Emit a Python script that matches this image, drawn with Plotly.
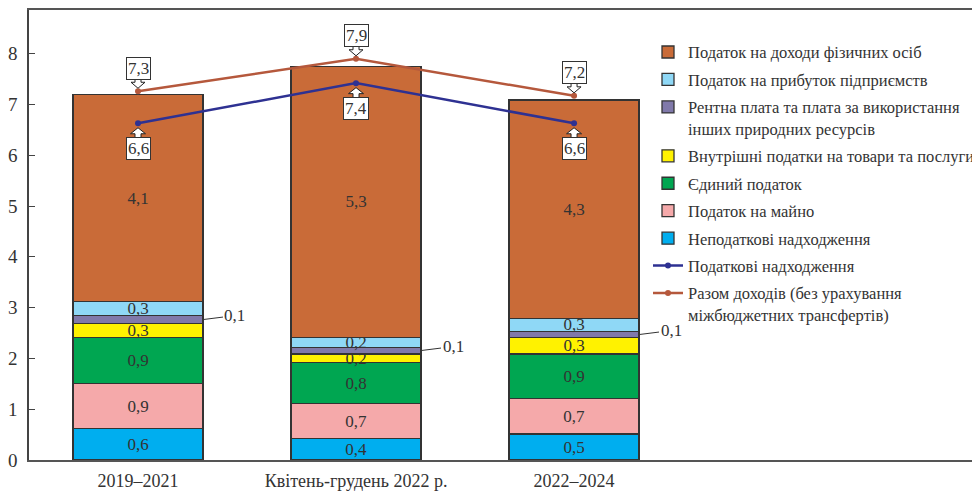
import plotly.graph_objects as go

categories = ["2019–2021", "Квітень-грудень 2022 р.", "2022–2024"]

nontax = [0.62, 0.42, 0.51]
nontax_lbl = ["0,6", "0,4", "0,5"]
prop_tax = [0.88, 0.69, 0.70]
prop_lbl = ["0,9", "0,7", "0,7"]
single_tax = [0.91, 0.81, 0.88]
single_lbl = ["0,9", "0,8", "0,9"]
internal_tax = [0.28, 0.17, 0.32]
internal_lbl = ["0,3", "0,2", "0,3"]
rent = [0.15, 0.13, 0.12]
rent_lbl = ["0,1", "0,1", "0,1"]
profit_tax = [0.28, 0.19, 0.26]
profit_lbl = ["0,3", "0,2", "0,3"]
pit = [4.07, 5.34, 4.30]
pit_lbl = ["4,1", "5,3", "4,3"]

tax_revenue = [6.63, 7.42, 6.63]
tax_revenue_lbl = ["6,6", "7,4", "6,6"]
total_revenue = [7.26, 7.90, 7.17]
total_revenue_lbl = ["7,3", "7,9", "7,2"]

SERIF = "Liberation Serif, DejaVu Serif, serif"
TXT = "#333333"

fig = go.Figure()

bars = [
    ("Неподаткові надходження", nontax, nontax_lbl, "#00aeef", 7),
    ("Податок на майно", prop_tax, prop_lbl, "#f5a9aa", 6),
    ("Єдиний податок", single_tax, single_lbl, "#00a651", 5),
    ("Внутрішні податки на товари та послуги", internal_tax, internal_lbl, "#fff200", 4),
    ("Рентна плата та плата за використання<br>інших природних ресурсів", rent, ["", "", ""], "#8079aa", 3),
    ("Податок на прибуток підприємств", profit_tax, profit_lbl, "#8fd8f6", 2),
    ("Податок на доходи фізичних осіб", pit, pit_lbl, "#c96b38", 1),
]
for name, vals, lbls, col, rank in bars:
    fig.add_trace(go.Bar(
        x=categories, y=vals, name=name, legendgroup=name, legendrank=rank,
        text=lbls, textposition="inside", insidetextanchor="middle",
        textangle=0, constraintext="none",
        textfont=dict(family=SERIF, size=17, color=TXT),
        marker=dict(color=col, line=dict(color="#333333", width=1.3)),
        width=0.596, hoverinfo="skip"))

fig.add_trace(go.Scatter(
    x=categories, y=tax_revenue, mode="lines+markers",
    name="Податкові надходження", legendgroup="tax", legendrank=8,
    line=dict(color="#2e3192", width=2.5), marker=dict(size=6, color="#2e3192")))
fig.add_trace(go.Scatter(
    x=categories, y=total_revenue, mode="lines+markers",
    name="Разом доходів (без урахування<br>міжбюджетних трансфертів)",
    legendgroup="total", legendrank=9,
    line=dict(color="#b5583c", width=2.5), marker=dict(size=6, color="#b5583c")))

DOWN_ARROW = "M0,3 L-7,9 L-3,9 L-3,13.5 L3,13.5 L3,9 L7,9 Z"
UP_ARROW = "M0,-4.5 L-7.5,-10.5 L-3,-10.5 L-3,-15.5 L3,-15.5 L3,-10.5 L7.5,-10.5 Z"

ann = []
shapes = []
for i in range(len(categories)):
    # total revenue label above
    ann.append(dict(x=i, y=total_revenue[i], xref="x", yref="y", text=total_revenue_lbl[i],
                    showarrow=False, yshift=23, bgcolor="white", bordercolor="#333",
                    borderwidth=1, borderpad=1, font=dict(family=SERIF, size=17, color=TXT)))
    shapes.append(dict(type="path", xref="x", yref="y", xsizemode="pixel", ysizemode="pixel",
                       xanchor=i, yanchor=total_revenue[i], path=DOWN_ARROW,
                       fillcolor="white", line=dict(color="#222", width=1), layer="above"))
    # tax revenue label below
    shapes.append(dict(type="path", xref="x", yref="y", xsizemode="pixel", ysizemode="pixel",
                       xanchor=i, yanchor=tax_revenue[i], path=UP_ARROW,
                       fillcolor="white", line=dict(color="#222", width=1), layer="above"))
    ann.append(dict(x=i, y=tax_revenue[i], xref="x", yref="y", text=tax_revenue_lbl[i],
                    showarrow=False, yshift=-25, bgcolor="white", bordercolor="#333",
                    borderwidth=1, borderpad=1, font=dict(family=SERIF, size=17, color=TXT)))
    # rent leader label
    base = nontax[i] + prop_tax[i] + single_tax[i] + internal_tax[i]
    ann.append(dict(x=i + 0.298, y=base + rent[i] / 2, xref="x", yref="y", text=rent_lbl[i],
                    showarrow=True, arrowhead=0, arrowwidth=1, arrowcolor="#333",
                    ax=32, ay=-4, standoff=0, font=dict(family=SERIF, size=17, color=TXT)))

fig.update_layout(
    width=972, height=483,
    margin=dict(l=21, r=0, t=2, b=31),
    paper_bgcolor="white", plot_bgcolor="white",
    barmode="stack",
    font=dict(family=SERIF, size=16, color=TXT),
    showlegend=True,
    legend=dict(x=0.651, y=0.945, xanchor="left", yanchor="top",
                traceorder="grouped", tracegroupgap=3, valign="top",
                font=dict(family=SERIF, size=16.5, color=TXT), bgcolor="rgba(0,0,0,0)"),
    annotations=ann,
    shapes=shapes,
    xaxis=dict(range=[-0.5, 3.862], showline=True, linecolor="#555", linewidth=1.5,
               mirror=True, ticks="", showgrid=False, zeroline=False, ticklabelstandoff=4,
               tickfont=dict(family=SERIF, size=18, color=TXT)),
    yaxis=dict(range=[0, 8.86], tickvals=list(range(9)), ticks="inside", ticklen=6,
               tickcolor="#444", showline=True, linecolor="#444", linewidth=1.5,
               showgrid=False, zeroline=False, ticklabelstandoff=6,
               tickfont=dict(family=SERIF, size=19, color=TXT)),
)

fig.write_html("out.html")
